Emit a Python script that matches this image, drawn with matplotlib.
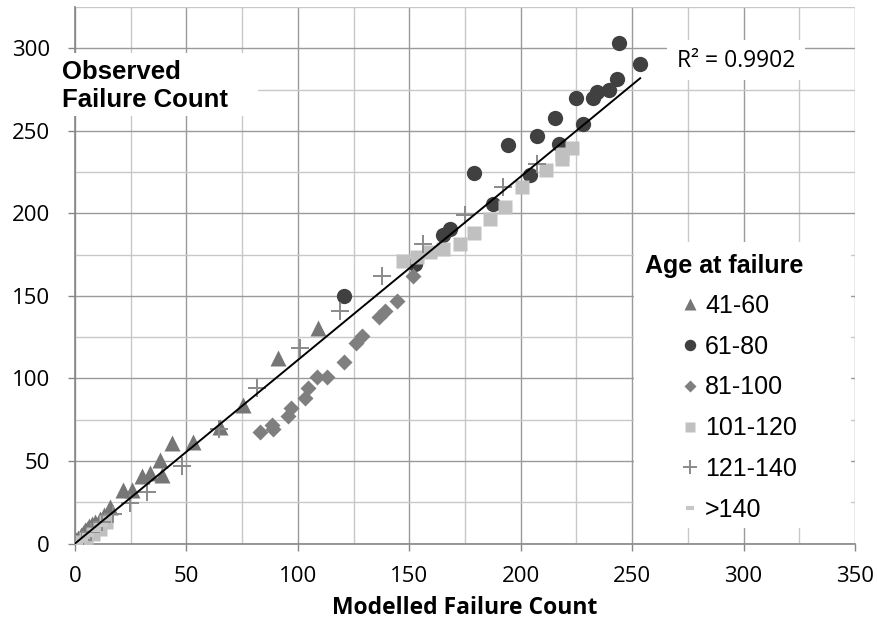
import numpy as np
import matplotlib
matplotlib.use("Agg")
from matplotlib import pyplot as plt
from matplotlib.patches import Rectangle
from matplotlib.ticker import MultipleLocator

# modelled (x) vs observed (y) failure counts, one pair of lists per age band
x_41_60 = [0.5, 1.5, 2.5, 3.5, 4.5, 5.5, 6.5, 7.5, 9, 11, 13, 15.7, 21.4, 25.4, 29.9, 33.7,
           38.2, 38.9, 43.4, 52.8, 65, 75.5, 91.2, 109.2]
y_41_60 = [2, 3.5, 5, 6.5, 8, 9, 10.5, 12, 13, 15, 17, 22.4, 32.5, 32.5, 40.6, 42.7,
           50.8, 41.6, 60.9, 61.3, 70.5, 84.2, 112.6, 130.8]

x_61_80 = [120.9, 152.6, 165.3, 168.3, 187.5, 179.1, 204.2, 194.5, 217.4, 207.2, 215.4,
           228.1, 224.7, 232.6, 234.2, 239.4, 243.1, 253.6, 243.9]
y_61_80 = [150.0, 169.3, 186.9, 190.6, 205.8, 224.4, 223.4, 241.2, 242.2, 246.7, 257.9,
           254.4, 269.6, 269.6, 273.3, 274.7, 281.2, 290.5, 303.0]

x_81_100 = [83.0, 88.3, 89.0, 95.7, 96.8, 103.2, 104.7, 108.8, 113.0, 120.7, 126.1, 128.7,
            136.2, 139.1, 144.4, 151.8]
y_81_100 = [67.4, 72.0, 69.4, 77.1, 82.2, 88.3, 94.3, 101.0, 100.8, 110.2, 121.3, 125.7,
            137.5, 140.9, 147.0, 162.2]

x_101_120 = [2, 5, 8, 11, 14, 147.4, 153.4, 159.3, 165.3, 172.8, 179.2, 186.0, 193.0,
             200.5, 211.4, 218.4, 218.4, 222.9]
y_101_120 = [1, 3, 6, 9, 13, 171.3, 173.4, 176.4, 178.4, 181.5, 188.0, 196.7, 203.8,
             215.9, 226.0, 233.1, 236.2, 239.6]

x_121_140 = [0, 3, 7, 12, 17, 24.7, 32.2, 47.9, 64.8, 81.5, 101.0, 118.9, 137.6, 156.3,
             175.0, 192.2, 207.2]
y_121_140 = [0, 2, 7, 13, 18, 24.4, 31.5, 46.7, 69.4, 94.0, 118.7, 140.9, 162.2, 181.5,
             198.7, 215.9, 230.1]

x_over_140 = [1, 3, 6, 9, 12]
y_over_140 = [0.5, 2, 5, 8, 11]

r2_label = "R² = 0.9902"

W, H = 877, 621


def fx(px):
    return px / W


def fy(py):
    return 1 - py / H


fig = plt.figure(figsize=(8.77, 6.21), dpi=100)
ax = fig.add_axes([fx(75), fy(543.5), fx(855) - fx(75), fy(7) - fy(543.5)])

ax.set_xlim(0, 350)
ax.set_ylim(0, 325)
ax.xaxis.set_major_locator(MultipleLocator(50))
ax.yaxis.set_major_locator(MultipleLocator(50))
ax.xaxis.set_minor_locator(MultipleLocator(25))
ax.yaxis.set_minor_locator(MultipleLocator(25))
ax.set_yticks([0, 50, 100, 150, 200, 250, 300])
ax.grid(True, which="major", color="#9a9a9a", lw=1.0)
ax.grid(True, which="minor", color="#c8c8c8", lw=1.0)
ax.set_axisbelow(True)
for s in ["top", "right"]:
    ax.spines[s].set_visible(False)
for s in ["left", "bottom"]:
    ax.spines[s].set_color("#868686")
    ax.spines[s].set_linewidth(1.2)
ax.tick_params(which="major", length=5, width=1.0, color="#868686", pad=13,
               labelsize=16, labelfontfamily="Open Sans")
ax.tick_params(which="minor", length=0)
ax.tick_params(axis="x", pad=11)

ax.set_xlabel("Modelled Failure Count", fontsize=16.5, fontweight="bold",
              family="Open Sans", labelpad=7)

ax.plot(x_41_60, y_41_60, ls="none", marker="^", ms=11, color="#767676", mec="none",
        label="41-60", zorder=3)
ax.plot(x_61_80, y_61_80, ls="none", marker="o", ms=11, color="#404040", mec="none",
        label="61-80", zorder=3)
ax.plot(x_81_100, y_81_100, ls="none", marker="D", ms=8, color="#7f7f7f", mec="none",
        label="81-100", zorder=3)
ax.plot(x_101_120, y_101_120, ls="none", marker="s", ms=10.5, color="#c0c0c0", mec="none",
        label="101-120", zorder=3)
ax.plot(x_121_140, y_121_140, ls="none", marker="+", ms=13, mew=1.4, color="#8a8a8a",
        label="121-140", zorder=3)
ax.plot(x_over_140, y_over_140, ls="none", marker="_", ms=8, mew=3, color="#c8c8c8",
        label=">140", zorder=3)

# linear trend through the origin
all_x = np.concatenate([x_41_60, x_61_80, x_81_100, x_101_120, x_121_140, x_over_140])
all_y = np.concatenate([y_41_60, y_61_80, y_81_100, y_101_120, y_121_140, y_over_140])
slope = np.sum(all_x * all_y) / np.sum(all_x * all_x)
xt = np.array([0, all_x.max()])
ax.plot(xt, slope * xt, color="black", lw=1.4, zorder=4)

# white boxes (Excel style labels)
ax.add_patch(Rectangle((fx(60), fy(116)), fx(258) - fx(60), fy(53) - fy(116),
                       transform=fig.transFigure, facecolor="white", edgecolor="none",
                       zorder=5, clip_on=False))
ax.text(fx(62), fy(86), "Observed\nFailure Count", transform=fig.transFigure,
        ha="left", va="center", fontsize=18.5, fontweight="bold",
        family="Liberation Sans", linespacing=1.2, zorder=6)

ax.add_patch(Rectangle((fx(667), fy(80)), fx(805) - fx(667), fy(40) - fy(80),
                       transform=fig.transFigure, facecolor="white", edgecolor="none",
                       zorder=5, clip_on=False))
ax.text(fx(677), fy(61), r2_label, transform=fig.transFigure, ha="left", va="center",
        fontsize=16.5, family="Open Sans", zorder=6)

ax.add_patch(Rectangle((fx(634), fy(528)), fx(851) - fx(634), fy(242) - fy(528),
                       transform=fig.transFigure, facecolor="white", edgecolor="none",
                       zorder=5, clip_on=False))
ax.text(fx(645), fy(266), "Age at failure", transform=fig.transFigure, ha="left",
        va="center", fontsize=18, fontweight="bold", family="Liberation Sans", zorder=6)

leg = ax.legend(loc="upper left", bbox_to_anchor=(fx(680), fy(294)),
                bbox_transform=fig.transFigure, frameon=False, borderpad=0,
                borderaxespad=0, handlelength=0.8, handletextpad=0.2,
                labelspacing=0.67, markerscale=0.75,
                prop={"family": "Liberation Sans", "size": 18})
leg.set_zorder(7)

fig.savefig("out.png", dpi=100)
